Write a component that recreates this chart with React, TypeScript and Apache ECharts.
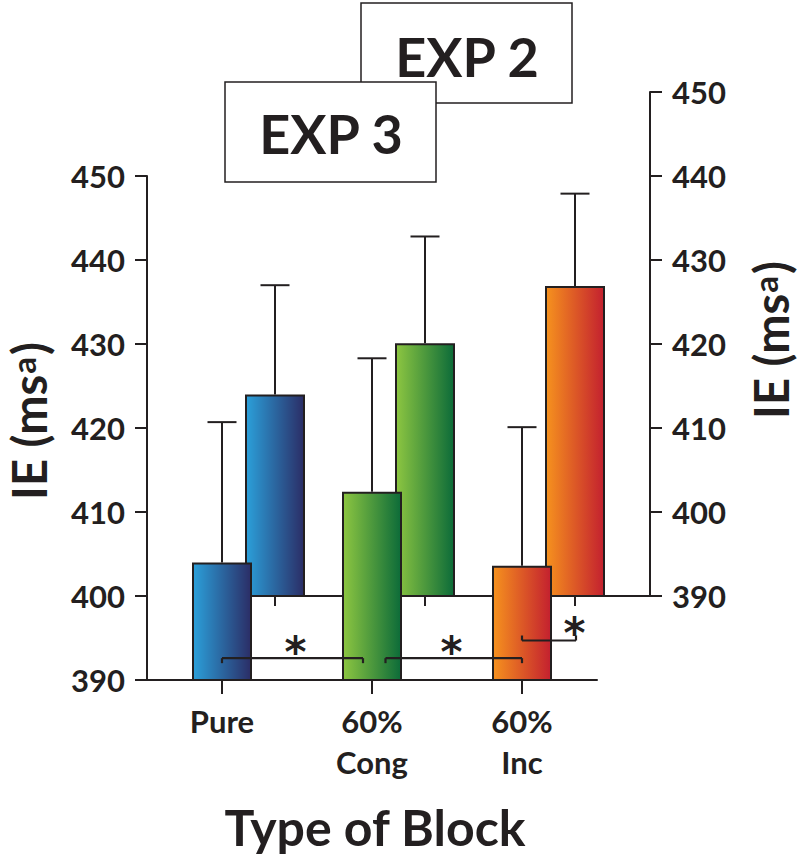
import React, { useEffect, useRef } from "react";
import * as echarts from "echarts";

// ---------- data ----------
const categories = ["Pure", "60%\nCong", "60%\nInc"];
const yTickValues = [390, 400, 410, 420, 430, 440, 450];

// EXP 3 (left axis)
const exp3Mean = [404.0, 412.4, 403.6];
const exp3Upper = [420.7, 428.3, 420.1];

// EXP 2 (right axis)
const exp2Mean = [414.0, 420.1, 426.9];
const exp2Upper = [427.0, 432.8, 437.9];

// significance brackets (in category units / EXP 3 axis values)
const bracketStart = [0, 1.09, 2.0];
const bracketEnd = [0.94, 2.0, 2.36];
const bracketLevel = [392.6, 392.6, 394.7];
const bracketTickDir = [1, 1, -1];
const starPos = [0.49, 1.53, 2.35];
const starLevel = [394.2, 394.2, 396.5];

const barColors = [
  ["#2ba0da", "#2b2d66"],
  ["#8dc641", "#0c6b39"],
  ["#f6921e", "#c3202f"],
];

const INK = "#231f20";
const FONT = "Lato";

function gradientFor(i: number) {
  return new echarts.graphic.LinearGradient(0, 0, 1, 0, [
    { offset: 0, color: barColors[i][0] },
    { offset: 1, color: barColors[i][1] },
  ]);
}

function measure(text: string, size: number) {
  const c = document.createElement("canvas").getContext("2d");
  if (!c) return text.length * size * 0.55;
  c.font = `bold ${size}px ${FONT}`;
  return c.measureText(text).width;
}

// rotated "IE (ms a)" label with a small, raised "a"
function axisTitle(cx: number, cy: number) {
  const big = 47;
  const small = 33;
  const parts = [
    { t: "IE (ms", s: big, dy: 0, gap: 0 },
    { t: "a", s: small, dy: -6.5, gap: 1 },
    { t: ")", s: big, dy: 0, gap: 2 },
  ];
  const widths = parts.map((p) => measure(p.t, p.s) + p.gap);
  const total = widths.reduce((a, b) => a + b, 0);
  let x = -total / 2;
  const children = parts.map((p, i) => {
    const el = {
      type: "text",
      x: x + p.gap,
      y: p.dy,
      style: {
        text: p.t,
        fill: INK,
        fontFamily: FONT,
        fontWeight: "bold",
        fontSize: p.s,
        align: "left",
        verticalAlign: "middle",
      },
    };
    x += widths[i];
    return el;
  });
  return { type: "group", x: cx, y: cy, rotation: Math.PI / 2, children };
}

function errorSeries(mean: number[], upper: number[], axisIdx: number, z: number) {
  return {
    type: "custom",
    xAxisIndex: axisIdx,
    yAxisIndex: axisIdx,
    z,
    encode: { x: 0, y: 2 },
    data: mean.map((m, i) => [i, m, upper[i]]),
    renderItem: (_p: any, api: any) => {
      const i = api.value(0);
      const base = api.coord([i, api.value(1)]);
      const top = api.coord([i, api.value(2)]);
      const half = 14.5;
      const st = { stroke: INK, lineWidth: 2 };
      return {
        type: "group",
        children: [
          { type: "line", shape: { x1: base[0], y1: base[1], x2: top[0], y2: top[1] }, style: st },
          { type: "line", shape: { x1: top[0] - half, y1: top[1], x2: top[0] + half, y2: top[1] }, style: st },
        ],
      };
    },
  };
}

export default function App() {
  const ref = useRef<HTMLDivElement>(null);
  useEffect(() => {
    if (!ref.current) return;
    const chart = echarts.init(ref.current, undefined, { renderer: "svg" });
    const yMin = yTickValues[0];
    const yMax = yTickValues[yTickValues.length - 1];
    const yStep = yTickValues[1] - yTickValues[0];

    const yAxisCommon = {
      type: "value",
      min: yMin,
      max: yMax,
      interval: yStep,
      splitLine: { show: false },
      axisLine: { show: true, lineStyle: { color: INK, width: 2 } },
      axisTick: { show: true, length: 12, lineStyle: { color: INK, width: 2 } },
      axisLabel: { margin: 22, color: INK, fontFamily: FONT, fontWeight: "bold", fontSize: 31 },
    };

    const option: any = {
      animation: false,
      backgroundColor: "#ffffff",
      grid: [
        { left: 147, top: 176, width: 450, height: 504 },
        { left: 200, top: 92, width: 450, height: 504 },
      ],
      xAxis: [
        {
          type: "category",
          gridIndex: 0,
          data: categories,
          axisLine: { show: true, lineStyle: { color: INK, width: 2 } },
          axisTick: { show: true, alignWithLabel: true, length: 14, lineStyle: { color: INK, width: 2 } },
          axisLabel: {
            margin: 20,
            color: INK,
            fontFamily: FONT,
            fontWeight: "bold",
            fontSize: 31,
            lineHeight: 41,
            interval: 0,
          },
        },
        {
          type: "category",
          gridIndex: 1,
          data: categories,
          axisLine: { show: true, lineStyle: { color: INK, width: 2 } },
          axisTick: { show: true, alignWithLabel: true, length: 10, lineStyle: { color: INK, width: 2 } },
          axisLabel: { show: false },
        },
      ],
      yAxis: [
        { ...yAxisCommon, gridIndex: 0, position: "left" },
        { ...yAxisCommon, gridIndex: 1, position: "right" },
      ],
      series: [
        {
          type: "bar",
          xAxisIndex: 1,
          yAxisIndex: 1,
          z: 2,
          barWidth: 60,
          data: exp2Mean.map((v, i) => ({
            value: v,
            itemStyle: { color: gradientFor(i), borderColor: INK, borderWidth: 2 },
          })),
        },
        errorSeries(exp2Mean, exp2Upper, 1, 2),
        {
          type: "bar",
          xAxisIndex: 0,
          yAxisIndex: 0,
          z: 3,
          barWidth: 60,
          data: exp3Mean.map((v, i) => ({
            value: v,
            itemStyle: { color: gradientFor(i), borderColor: INK, borderWidth: 2 },
          })),
        },
        errorSeries(exp3Mean, exp3Upper, 0, 3),
        {
          type: "custom",
          xAxisIndex: 0,
          yAxisIndex: 0,
          z: 4,
          encode: { x: 0, y: 1 },
          data: bracketLevel.map((lv, i) => [0, lv, bracketStart[i], bracketEnd[i], bracketTickDir[i], starPos[i], starLevel[i]]),
          renderItem: (_p: any, api: any) => {
            const band = api.size([1, 0])[0];
            const origin = api.coord([0, api.value(1)]);
            const x1 = origin[0] + api.value(2) * band;
            const x2 = origin[0] + api.value(3) * band;
            const y = origin[1];
            const dir = api.value(4);
            const tick = 5 * dir;
            const starPt = api.coord([0, api.value(6)]);
            const sx = starPt[0] + api.value(5) * band;
            const st = { stroke: INK, lineWidth: 2.2 };
            return {
              type: "group",
              children: [
                { type: "line", shape: { x1, y1: y, x2, y2: y }, style: st },
                { type: "line", shape: { x1, y1: y, x2: x1, y2: y + tick }, style: st },
                { type: "line", shape: { x1: x2, y1: y, x2, y2: y + tick }, style: st },
                {
                  type: "text",
                  style: {
                    text: "*",
                    x: sx,
                    y: starPt[1] + 8,
                    fill: INK,
                    fontFamily: "DejaVu Sans",
                    fontWeight: "bold",
                    fontSize: 42,
                    align: "center",
                    verticalAlign: "middle",
                  },
                },
              ],
            };
          },
        },
      ],
      graphic: [
        {
          type: "rect",
          shape: { x: 361, y: 3, width: 211, height: 100 },
          style: { fill: "#fff", stroke: INK, lineWidth: 1.5 },
          z: 10,
        },
        {
          type: "text",
          x: 467,
          y: 56,
          style: {
            text: "EXP 2",
            fill: INK,
            fontFamily: FONT,
            fontWeight: "bold",
            fontSize: 54,
            align: "center",
            verticalAlign: "middle",
          },
          z: 11,
        },
        {
          type: "rect",
          shape: { x: 225, y: 82, width: 211, height: 100 },
          style: { fill: "#fff", stroke: INK, lineWidth: 1.5 },
          z: 12,
        },
        {
          type: "text",
          x: 331,
          y: 133,
          style: {
            text: "EXP 3",
            fill: INK,
            fontFamily: FONT,
            fontWeight: "bold",
            fontSize: 54,
            align: "center",
            verticalAlign: "middle",
          },
          z: 13,
        },
        axisTitle(29, 421),
        axisTitle(771, 340),
        {
          type: "text",
          x: 375,
          y: 827,
          style: {
            text: "Type of Block",
            fill: INK,
            fontFamily: FONT,
            fontWeight: "bold",
            fontSize: 50,
            align: "center",
            verticalAlign: "middle",
          },
        },
      ],
    };
    chart.setOption(option);
    return () => chart.dispose();
  }, []);

  return (
    <div
      ref={ref}
      style={{ position: "absolute", left: 0, top: 0, width: 800, height: 860, background: "#fff" }}
    />
  );
}
